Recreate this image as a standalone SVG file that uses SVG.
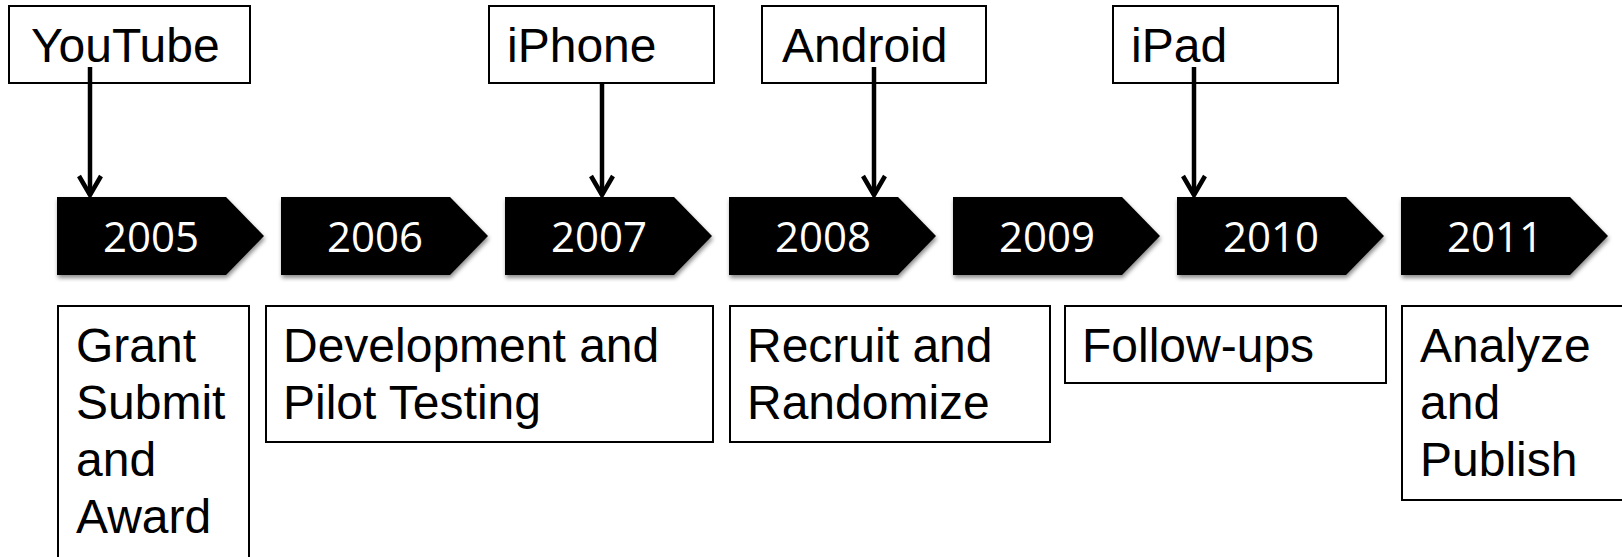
<svg xmlns="http://www.w3.org/2000/svg" width="1622" height="557" viewBox="0 0 1622 557">
  <style>
    .box { fill: #ffffff; stroke: #000000; stroke-width: 2; }
    .lbl { font-family: "Liberation Sans", Arimo, Arial, sans-serif; font-size: 48px; fill: #000000; }
    .chev { fill: #000000; filter: url(#shadow); }
    .year { font-family: "Open Sans", "Noto Sans", sans-serif; font-size: 42px; fill: #ffffff; text-anchor: middle; }
    .conn { stroke: #000000; stroke-width: 4.5; fill: none; marker-end: url(#vhead); }
  </style>
  <defs>
    <filter id="shadow" x="-10%" y="-10%" width="130%" height="140%">
      <feDropShadow dx="1" dy="3" stdDeviation="2" flood-color="#000000" flood-opacity="0.45"/>
    </filter>
    <marker id="vhead" markerUnits="userSpaceOnUse" orient="auto" refX="0" refY="0" markerWidth="30" markerHeight="30" overflow="visible">
      <path d="M -19 -11 L 0 0 L -19 11" fill="none" stroke="#000000" stroke-width="4.5" stroke-linejoin="miter"/>
    </marker>
  </defs>

  <g id="years">
    <g id="y2005"><path class="chev" d="M57 197 H226 L264 236 L226 275 H57 Z"/><text class="year" x="151" y="252">2005</text></g>
    <g id="y2006"><path class="chev" d="M281 197 H450 L488 236 L450 275 H281 Z"/><text class="year" x="375" y="252">2006</text></g>
    <g id="y2007"><path class="chev" d="M505 197 H674 L712 236 L674 275 H505 Z"/><text class="year" x="599" y="252">2007</text></g>
    <g id="y2008"><path class="chev" d="M729 197 H898 L936 236 L898 275 H729 Z"/><text class="year" x="823" y="252">2008</text></g>
    <g id="y2009"><path class="chev" d="M953 197 H1122 L1160 236 L1122 275 H953 Z"/><text class="year" x="1047" y="252">2009</text></g>
    <g id="y2010"><path class="chev" d="M1177 197 H1346 L1384 236 L1346 275 H1177 Z"/><text class="year" x="1271" y="252">2010</text></g>
    <g id="y2011"><path class="chev" d="M1401 197 H1570 L1608 236 L1570 275 H1401 Z"/><text class="year" x="1495" y="252">2011</text></g>
  </g>

  <g id="events">
    <g id="youtube"><rect class="box" x="9" y="6" width="241" height="77"/><text class="lbl" x="31" y="62">YouTube</text></g>
    <g id="iphone"><rect class="box" x="489" y="6" width="225" height="77"/><text class="lbl" x="507" y="62">iPhone</text></g>
    <g id="android"><rect class="box" x="762" y="6" width="224" height="77"/><text class="lbl" x="782" y="62">Android</text></g>
    <g id="ipad"><rect class="box" x="1113" y="6" width="225" height="77"/><text class="lbl" x="1131" y="62">iPad</text></g>
  </g>

  <g id="connectors">
    <line class="conn" x1="90" y1="67" x2="90" y2="195"/>
    <line class="conn" x1="602" y1="83" x2="602" y2="195"/>
    <line class="conn" x1="874" y1="67" x2="874" y2="195"/>
    <line class="conn" x1="1194" y1="67" x2="1194" y2="195"/>
  </g>

  <g id="phases">
    <g id="grant"><rect class="box" x="58" y="306" width="191" height="270"/>
      <text class="lbl" x="76" y="362">Grant</text><text class="lbl" x="76" y="419">Submit</text><text class="lbl" x="76" y="476">and</text><text class="lbl" x="76" y="533">Award</text></g>
    <g id="development"><rect class="box" x="266" y="306" width="447" height="136"/>
      <text class="lbl" x="283" y="362">Development and</text><text class="lbl" x="283" y="419">Pilot Testing</text></g>
    <g id="recruit"><rect class="box" x="730" y="306" width="320" height="136"/>
      <text class="lbl" x="747" y="362">Recruit and</text><text class="lbl" x="747" y="419">Randomize</text></g>
    <g id="followups"><rect class="box" x="1065" y="306" width="321" height="77"/>
      <text class="lbl" x="1082" y="362">Follow-ups</text></g>
    <g id="analyze"><rect class="box" x="1402" y="306" width="240" height="194"/>
      <text class="lbl" x="1420" y="362">Analyze</text><text class="lbl" x="1420" y="419">and</text><text class="lbl" x="1420" y="476">Publish</text></g>
  </g>
</svg>
